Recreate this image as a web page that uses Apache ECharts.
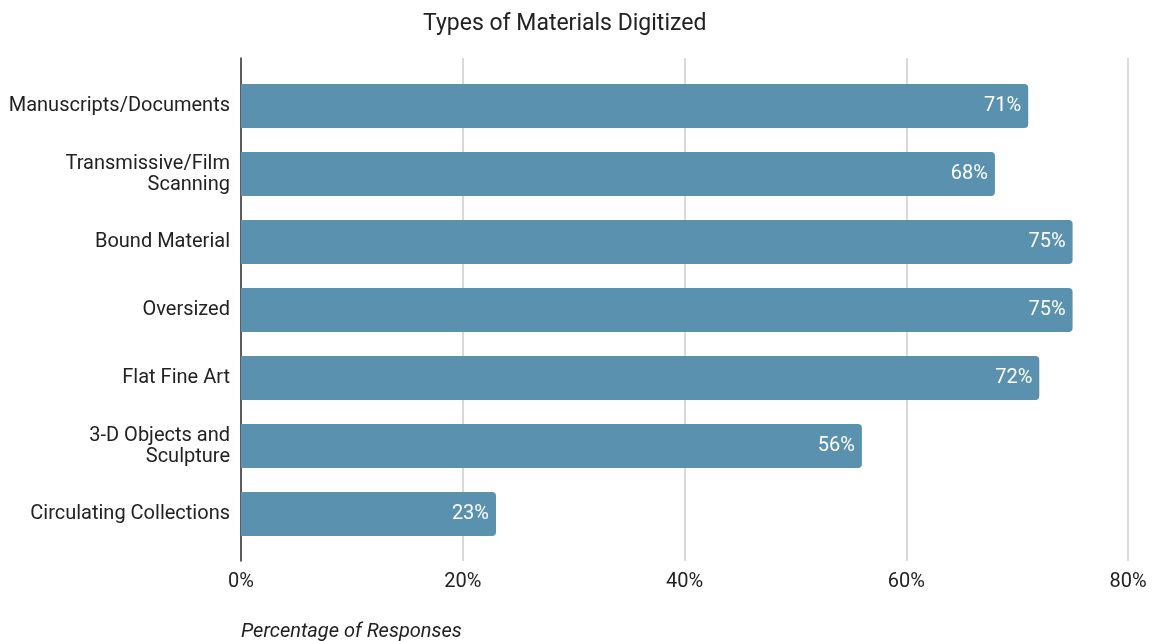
<!DOCTYPE html>
<html>
<head>
<meta charset="utf-8">
<script src="https://cdn.jsdelivr.net/npm/echarts@6/dist/echarts.min.js"></script>
<style>
  html, body { margin: 0; padding: 0; background: #fff; }
  #chart { width: 1153px; height: 641px; }
</style>
</head>
<body>
<div id="chart"></div>
<script>
// Survey results: share of respondents digitizing each material type
const categories = [
  'Manuscripts/Documents',
  'Transmissive/Film\nScanning',
  'Bound Material',
  'Oversized',
  'Flat Fine Art',
  '3-D Objects and\nSculpture',
  'Circulating Collections'
];
const percentages = [71, 68, 75, 75, 72, 56, 23];
const xTicks = { min: 0, max: 80, step: 20 };

const FONT = 'Roboto, "Noto Sans", sans-serif';
const TEXT = '#222222';
const BAR = '#5a91ae';

const chart = echarts.init(document.getElementById('chart'), null, { renderer: 'canvas' });

chart.setOption({
  backgroundColor: '#ffffff',
  animation: false,
  textStyle: { fontFamily: FONT },
  title: [
    {
      text: 'Types of Materials Digitized',
      left: 418,
      top: 8,
      textStyle: { fontFamily: FONT, fontSize: 23, fontWeight: 'normal', color: TEXT }
    },
    {
      text: 'Percentage of Responses',
      left: 236,
      top: 617,
      textStyle: { fontFamily: FONT, fontSize: 20, fontStyle: 'italic', fontWeight: 'normal', color: TEXT }
    }
  ],
  grid: [
    // frame grid: carries the gridlines, tick labels and the vertical axis line
    { left: 241, right: 25, top: 58, bottom: 80 },
    // bar grid: the category band
    { left: 241, right: 25, top: 72, bottom: 93 }
  ],
  xAxis: [
    {
      gridIndex: 0,
      type: 'value',
      min: xTicks.min,
      max: xTicks.max,
      interval: xTicks.step,
      axisLine: { show: false },
      axisTick: { show: false },
      axisLabel: {
        formatter: '{value}%',
        fontFamily: FONT,
        fontSize: 20,
        color: TEXT,
        margin: 11
      },
      splitLine: { show: true, lineStyle: { color: '#cccccc', width: 1.5 } }
    },
    {
      gridIndex: 1,
      type: 'value',
      min: xTicks.min,
      max: xTicks.max,
      show: false
    }
  ],
  yAxis: [
    {
      gridIndex: 0,
      type: 'value',
      min: 0,
      max: 1,
      axisLine: { show: true, onZero: false, lineStyle: { color: '#333333', width: 1.5 } },
      axisTick: { show: false },
      axisLabel: { show: false },
      splitLine: { show: false }
    },
    {
      gridIndex: 1,
      type: 'category',
      inverse: true,
      data: categories,
      axisLine: { show: false },
      axisTick: { show: false },
      axisLabel: {
        fontFamily: FONT,
        fontSize: 20,
        color: TEXT,
        margin: 11,
        lineHeight: 21
      },
      splitLine: { show: false }
    }
  ],
  series: [
    {
      type: 'bar',
      xAxisIndex: 1,
      yAxisIndex: 1,
      data: percentages,
      barWidth: 44,
      itemStyle: { color: BAR, borderRadius: [0, 4, 4, 0] },
      label: {
        show: true,
        position: 'insideRight',
        distance: 7,
        formatter: p => p.value + '%',
        fontFamily: FONT,
        fontSize: 20,
        color: '#ffffff'
      }
    }
  ]
});
</script>
</body>
</html>
